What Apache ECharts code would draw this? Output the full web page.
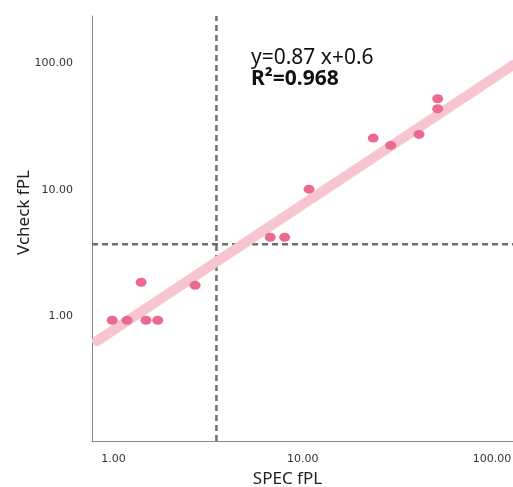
<!DOCTYPE html>
<html>
<head>
<meta charset="utf-8">
<script src="https://cdn.jsdelivr.net/npm/echarts@6/dist/echarts.min.js"></script>
<style>
html,body{margin:0;padding:0;background:#fff;}
#chart{width:513px;height:487px;}
</style>
</head>
<body>
<div id="chart"></div>
<script>
// Data
var specValues   = [0.985, 1.18, 1.40, 1.485, 1.713, 2.70, 6.74, 8.03, 10.8, 23.6, 29.2, 41.2, 51.7, 51.7];
var vcheckValues = [0.925, 0.925, 1.85, 0.925, 0.925, 1.75, 4.20, 4.20, 10.1, 25.6, 22.4, 27.4, 52.5, 43.7];
var fitLineX = [0.818, 129.3];
var fitLineY = [0.634, 96.9];
var xThreshold = 3.5;
var yThreshold = 3.7;
var xRange = [0.770, 129.3];
var yRange = [0.1025, 237];
var equationText = 'y=0.87 x+0.6';
var r2Text = 'R\u00B2=0.968';
var xName = 'SPEC fPL';
var yName = 'Vcheck fPL';

var points = specValues.map(function (x, i) { return [x, vcheckValues[i]]; });
var fitLine = fitLineX.map(function (x, i) { return [x, fitLineY[i]]; });
var vLine = [[xThreshold, yRange[0]], [xThreshold, yRange[1]]];
var hLine = [[0.682, yThreshold], [xRange[1] * 1.1, yThreshold]];

function powLabel(v) {
  var l = Math.log(v) / Math.LN10;
  return Math.abs(l - Math.round(l)) < 1e-6 ? v.toFixed(2) : '';
}

var chart = echarts.init(document.getElementById('chart'), null, {renderer: 'canvas'});
chart.setOption({
  animation: false,
  backgroundColor: '#ffffff',
  grid: {left: 92, right: 0, top: 16, bottom: 46, containLabel: false, outerBoundsMode: 'none'},
  xAxis: {
    type: 'log', logBase: 10, min: xRange[0], max: xRange[1],
    name: xName, nameLocation: 'middle', nameGap: 30, nameMoveOverlap: false,
    nameTextStyle: {fontFamily: 'Noto Sans', fontSize: 17, color: '#222', padding: [0, 30, 0, 0]},
    axisLine: {show: true, lineStyle: {color: '#8a8a8a', width: 1}},
    axisTick: {show: false},
    splitLine: {show: false},
    minorTick: {show: false},
    axisLabel: {formatter: powLabel, fontFamily: 'DejaVu Sans', fontSize: 11, color: '#333', margin: 13, showMinLabel: false, showMaxLabel: false}
  },
  yAxis: {
    type: 'log', logBase: 10, min: yRange[0], max: yRange[1],
    name: yName, nameLocation: 'middle', nameGap: 59, nameMoveOverlap: false,
    nameTextStyle: {fontFamily: 'Noto Sans', fontSize: 17, color: '#222', padding: [0, 0, 0, 32]},
    axisLine: {show: true, lineStyle: {color: '#8a8a8a', width: 1}},
    axisTick: {show: false},
    splitLine: {show: false},
    axisLabel: {formatter: powLabel, fontFamily: 'DejaVu Sans', fontSize: 11, color: '#333', margin: 19, showMinLabel: false, showMaxLabel: false}
  },
  graphic: [
    {type: 'text', left: 251, top: 48, style: {text: equationText, font: '21px "Noto Sans"', fill: '#111'}},
    {type: 'text', left: 251, top: 69, style: {text: r2Text, font: 'bold 21px "Noto Sans"', fill: '#111'}}
  ],
  series: [
    {
      type: 'line', data: vLine, symbol: 'none', clip: false, silent: true, z: 1,
      lineStyle: {color: '#6e6e6e', width: 2.5, type: [6, 4]}
    },
    {
      type: 'line', data: hLine, symbol: 'none', clip: false, silent: true, z: 1,
      lineStyle: {color: '#6e6e6e', width: 2.5, type: [6, 4]}
    },
    {
      type: 'line', data: fitLine, symbol: 'none', clip: false, silent: true, z: 2,
      lineStyle: {color: '#f7c5d0', width: 10, cap: 'round'}
    },
    {
      type: 'scatter', data: points, symbol: 'circle', symbolSize: [11, 9], z: 3,
      itemStyle: {color: '#ea6a90', opacity: 1}
    }
  ]
});
</script>
</body>
</html>
